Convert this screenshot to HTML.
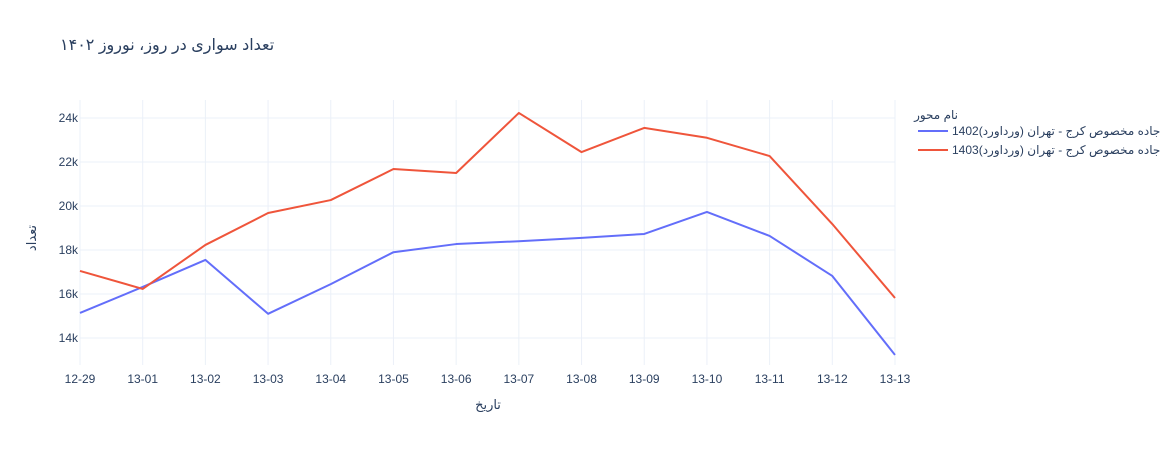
<!DOCTYPE html>
<html><head><meta charset="utf-8"><style>
body{margin:0;background:#fff;font-family:"Liberation Sans","DejaVu Sans",sans-serif;}
svg text{font-family:"Liberation Sans","DejaVu Sans",sans-serif;}
</style></head><body>
<svg id="chart" width="1168" height="450">
<text x="60" y="50" font-size="16" fill="#2a3f5f" text-anchor="end" direction="rtl">تعداد سواری در روز، نوروز ۱۴۰۲</text>
<g id="grid"></g><g id="axes"></g><g id="series"></g>
<text x="488" y="409" font-size="13" fill="#2a3f5f" text-anchor="middle">تاریخ</text>
<text transform="translate(36,238) rotate(-90)" font-size="13" fill="#2a3f5f" text-anchor="middle">تعداد</text>
<g>
<text x="958" y="119" font-size="12" fill="#2a3f5f" text-anchor="end">نام محور</text>
<g><line x1="918" y1="131" x2="948" y2="131" stroke="#636efa" stroke-width="2"/><text x="952" y="135" font-size="12" fill="#2a3f5f">1402(ورداورد) جاده مخصوص کرج - تهران</text></g>
<g><line x1="918" y1="150" x2="948" y2="150" stroke="#ef553b" stroke-width="2"/><text x="952" y="154" font-size="12" fill="#2a3f5f">1403(ورداورد) جاده مخصوص کرج - تهران</text></g>
</g>
</svg>
<script>
const categories=["12-29","13-01","13-02","13-03","13-04","13-05","13-06","13-07","13-08","13-09","13-10","13-11","13-12","13-13"];
const series1402=[15140,16320,17550,15100,16450,17900,18270,18400,18550,18730,19730,18640,16820,13230];
const series1403=[17050,16230,18230,19680,20270,21680,21500,24230,22450,23550,23100,22270,19180,15820];
const yTicks=[14000,16000,18000,20000,22000,24000];
const yTickLabels=["14k","16k","18k","20k","22k","24k"];
const NS="http://www.w3.org/2000/svg";
const plotX0=80,plotX1=895,plotTop=100,plotBottom=365;
const xs=i=>plotX0+(plotX1-plotX0)*i/(categories.length-1);
const ys=v=>338-(v-14000)*(220/10000);
function mk(t,a,p){const e=document.createElementNS(NS,t);for(const k in a)e.setAttribute(k,a[k]);p.appendChild(e);return e;}
const gGrid=document.getElementById('grid'),gAx=document.getElementById('axes'),gSer=document.getElementById('series');
categories.forEach((c,i)=>{
 const l=mk('line',{x1:xs(i),x2:xs(i),y1:plotTop,y2:plotBottom,stroke:'#ebf0f8'},gGrid);
 
 
 const t=mk('text',{x:xs(i),y:383,'font-size':12,fill:'#2a3f5f','text-anchor':'middle'},gAx);
 
 
 t.textContent=c;
});
yTicks.forEach((v,i)=>{
 const l=mk('line',{x1:plotX0,x2:plotX1,y1:ys(v),y2:ys(v),stroke:'#ebf0f8'},gGrid);
 
 
 const t=mk('text',{x:plotX0-2,y:ys(v)+4,'font-size':12,fill:'#2a3f5f','text-anchor':'end'},gAx);
 
 
 t.textContent=yTickLabels[i];
});
[[series1402,'#636efa','line-1402'],[series1403,'#ef553b','line-1403']].forEach(([d,c,n])=>{
 const p=mk('polyline',{points:d.map((v,i)=>xs(i)+','+ys(v)).join(' '),fill:'none',stroke:c,'stroke-width':2,'stroke-linejoin':'round'},gSer);
 
 
});
</script>
</body></html>
